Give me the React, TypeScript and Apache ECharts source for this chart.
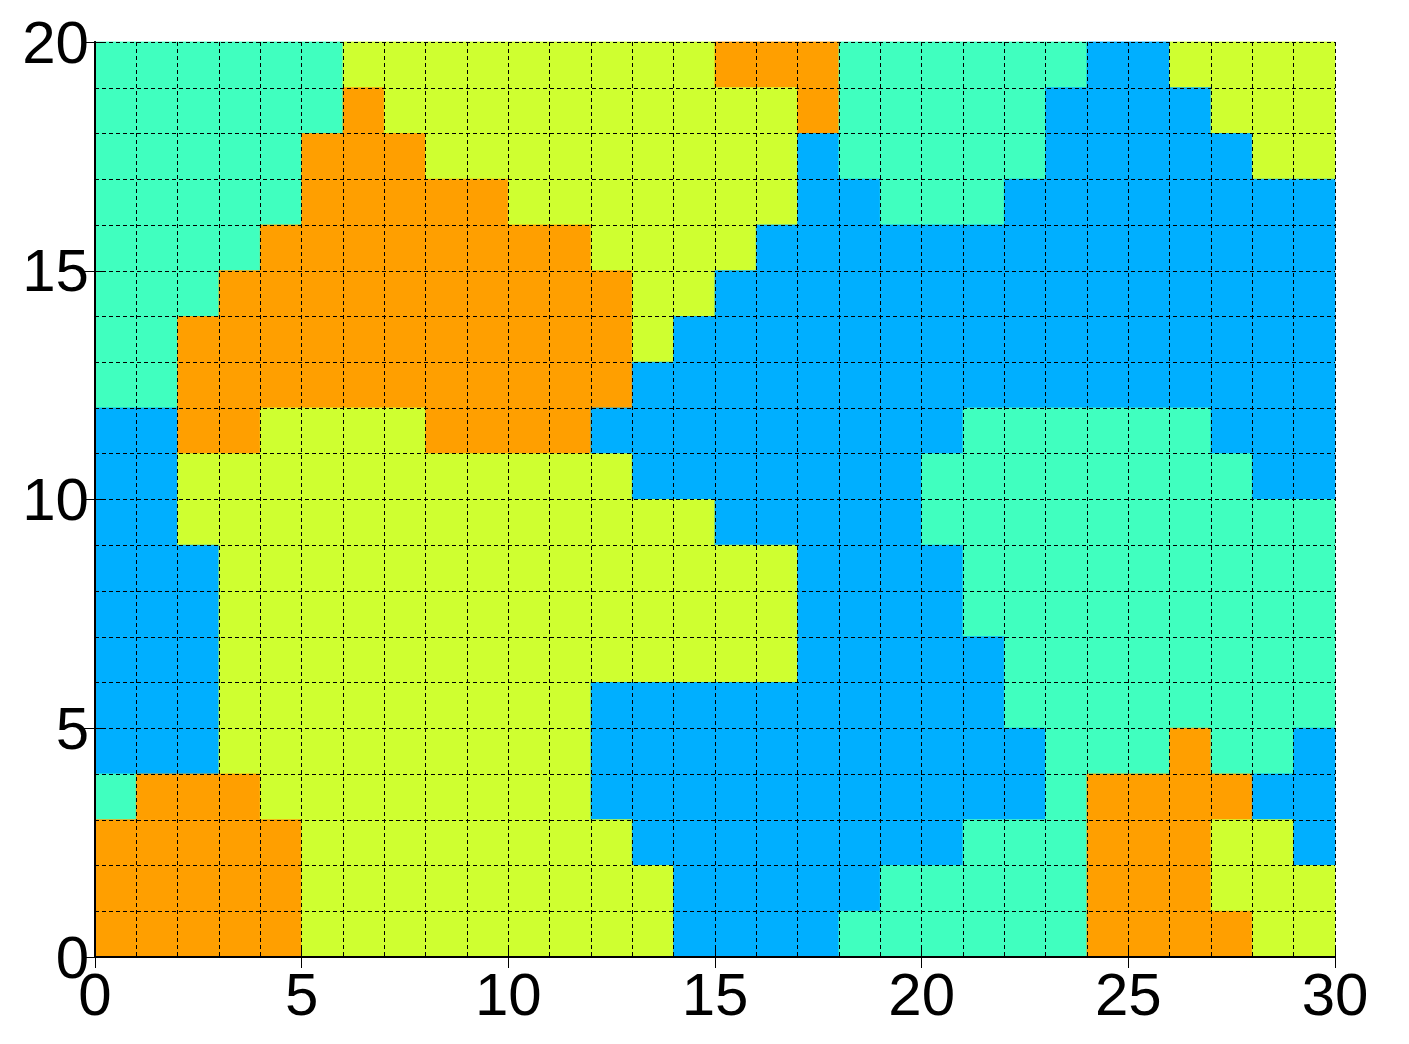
import React, { useEffect, useRef } from "react";
import * as echarts from "echarts";

// Level codes: 1 = blue, 2 = cyan, 3 = yellow, 4 = orange
// Rows listed from top (y = 19..20) down to bottom (y = 0..1); 30 columns each.
const row19 = [2,2,2,2,2,2,3,3,3,3,3,3,3,3,3,4,4,4,2,2,2,2,2,2,1,1,3,3,3,3];
const row18 = [2,2,2,2,2,2,4,3,3,3,3,3,3,3,3,3,3,4,2,2,2,2,2,1,1,1,1,3,3,3];
const row17 = [2,2,2,2,2,4,4,4,3,3,3,3,3,3,3,3,3,1,2,2,2,2,2,1,1,1,1,1,3,3];
const row16 = [2,2,2,2,2,4,4,4,4,4,3,3,3,3,3,3,3,1,1,2,2,2,1,1,1,1,1,1,1,1];
const row15 = [2,2,2,2,4,4,4,4,4,4,4,4,3,3,3,3,1,1,1,1,1,1,1,1,1,1,1,1,1,1];
const row14 = [2,2,2,4,4,4,4,4,4,4,4,4,4,3,3,1,1,1,1,1,1,1,1,1,1,1,1,1,1,1];
const row13 = [2,2,4,4,4,4,4,4,4,4,4,4,4,3,1,1,1,1,1,1,1,1,1,1,1,1,1,1,1,1];
const row12 = [2,2,4,4,4,4,4,4,4,4,4,4,4,1,1,1,1,1,1,1,1,1,1,1,1,1,1,1,1,1];
const row11 = [1,1,4,4,3,3,3,3,4,4,4,4,1,1,1,1,1,1,1,1,1,2,2,2,2,2,2,1,1,1];
const row10 = [1,1,3,3,3,3,3,3,3,3,3,3,3,1,1,1,1,1,1,1,2,2,2,2,2,2,2,2,1,1];
const row9  = [1,1,3,3,3,3,3,3,3,3,3,3,3,3,3,1,1,1,1,1,2,2,2,2,2,2,2,2,2,2];
const row8  = [1,1,1,3,3,3,3,3,3,3,3,3,3,3,3,3,3,1,1,1,1,2,2,2,2,2,2,2,2,2];
const row7  = [1,1,1,3,3,3,3,3,3,3,3,3,3,3,3,3,3,1,1,1,1,2,2,2,2,2,2,2,2,2];
const row6  = [1,1,1,3,3,3,3,3,3,3,3,3,3,3,3,3,3,1,1,1,1,1,2,2,2,2,2,2,2,2];
const row5  = [1,1,1,3,3,3,3,3,3,3,3,3,1,1,1,1,1,1,1,1,1,1,2,2,2,2,2,2,2,2];
const row4  = [1,1,1,3,3,3,3,3,3,3,3,3,1,1,1,1,1,1,1,1,1,1,1,2,2,2,4,2,2,1];
const row3  = [2,4,4,4,3,3,3,3,3,3,3,3,1,1,1,1,1,1,1,1,1,1,1,2,4,4,4,4,1,1];
const row2  = [4,4,4,4,4,3,3,3,3,3,3,3,3,1,1,1,1,1,1,1,1,2,2,2,4,4,4,3,3,1];
const row1  = [4,4,4,4,4,3,3,3,3,3,3,3,3,3,1,1,1,1,1,2,2,2,2,2,4,4,4,3,3,3];
const row0  = [4,4,4,4,4,3,3,3,3,3,3,3,3,3,1,1,1,1,2,2,2,2,2,2,4,4,4,4,3,3];

const rowsTopDown = [row19, row18, row17, row16, row15, row14, row13, row12, row11, row10,
  row9, row8, row7, row6, row5, row4, row3, row2, row1, row0];

const xTicks = [0, 5, 10, 15, 20, 25, 30];
const yTicks = [0, 5, 10, 15, 20];

const levelColors: Record<number, string> = {
  1: "#00AFFF",
  2: "#40FFBF",
  3: "#CFFF30",
  4: "#FF9F00",
};

export default function App() {
  const ref = useRef<HTMLDivElement>(null);
  useEffect(() => {
    if (!ref.current) return;
    const chart = echarts.init(ref.current, null, { renderer: "svg" });
    const nRows = rowsTopDown.length;
    const data: number[][] = [];
    rowsTopDown.forEach((row, i) => {
      const y = nRows - 1 - i;
      row.forEach((v, x) => data.push([x, y, v]));
    });
    const xMax = xTicks[xTicks.length - 1];
    const yMax = yTicks[yTicks.length - 1];
    const labelFont = {
      fontSize: 60,
      color: "#000",
      fontFamily: "'Liberation Sans', Arial, sans-serif",
    };
    const dash = { color: "#000", width: 1, type: [4, 3] as any };
    const frame = { show: true, lineStyle: { color: "#000", width: 2 } };
    const tick = { show: true, inside: true, length: 11, lineStyle: { color: "#000", width: 1 } };
    chart.setOption({
      animation: false,
      backgroundColor: "#fff",
      grid: { left: 95, right: 74, top: 42, bottom: 87, containLabel: false },
      xAxis: [
        {
          type: "value", min: 0, max: xMax, interval: 5, position: "bottom",
          axisLine: frame, axisTick: tick,
          axisLabel: { ...labelFont, margin: 7 },
          splitLine: { show: true, lineStyle: dash },
          minorTick: { show: false, splitNumber: 5 },
          minorSplitLine: { show: true, lineStyle: dash },
        },
        {
          type: "value", min: 0, max: xMax, interval: 5, position: "top",
          axisLine: frame, axisTick: tick, axisLabel: { show: false },
          splitLine: { show: false },
        },
      ],
      yAxis: [
        {
          type: "value", min: 0, max: yMax, interval: 5, position: "left",
          axisLine: frame, axisTick: tick,
          axisLabel: { ...labelFont, margin: 6 },
          splitLine: { show: true, lineStyle: dash },
          minorTick: { show: false, splitNumber: 5 },
          minorSplitLine: { show: true, lineStyle: dash },
        },
        {
          type: "value", min: 0, max: yMax, interval: 5, position: "right",
          axisLine: frame, axisTick: tick, axisLabel: { show: false },
          splitLine: { show: false },
        },
      ],
      series: [
        {
          type: "custom",
          z: -1,
          xAxisIndex: 0,
          yAxisIndex: 0,
          data,
          renderItem: (_params: any, api: any) => {
            const x = api.value(0);
            const y = api.value(1);
            const lvl = api.value(2);
            const p0 = api.coord([x, y + 1]);
            const p1 = api.coord([x + 1, y]);
            const c = levelColors[lvl];
            return {
              type: "rect",
              shape: { x: p0[0], y: p0[1], width: p1[0] - p0[0], height: p1[1] - p0[1] },
              style: { fill: c, stroke: c, lineWidth: 0.8 },
            };
          },
        },
      ],
    });
    return () => chart.dispose();
  }, []);
  return (
    <div
      ref={ref}
      style={{ position: "fixed", left: 0, top: 0, width: 1409, height: 1044, background: "#fff" }}
    />
  );
}
